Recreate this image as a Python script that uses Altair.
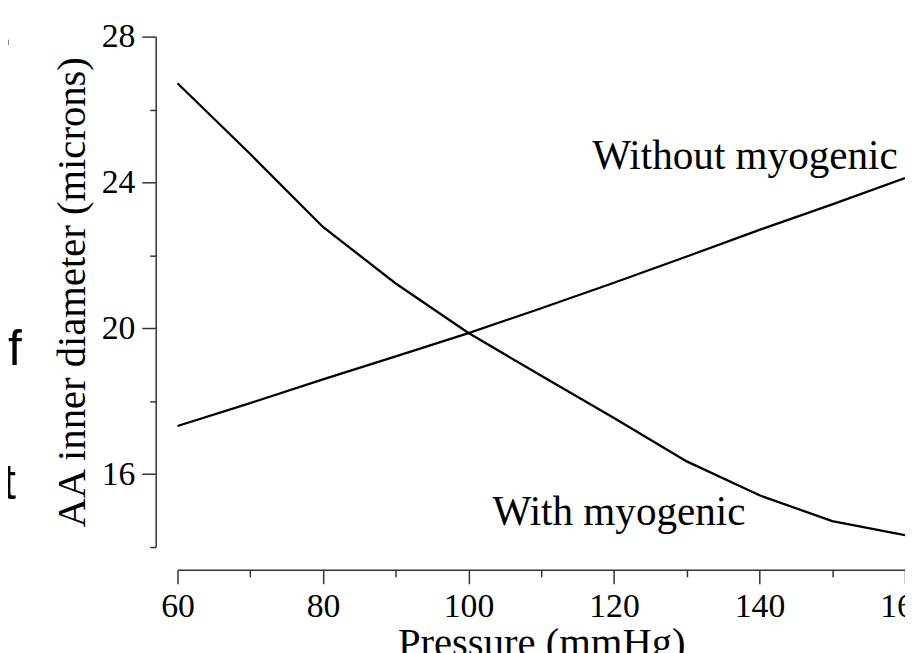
import altair as alt
import pandas as pd

# Data
pressure = [60, 70, 80, 90, 100, 110, 120, 130, 140, 150, 160]
with_myogenic = [26.72, 24.78, 22.78, 21.23, 19.87, 18.70, 17.54, 16.35, 15.42, 14.71, 14.33]
without_myogenic = [17.32, 17.95, 18.60, 19.23, 19.87, 20.55, 21.25, 21.97, 22.70, 23.40, 24.12]

label_text = ["Without myogenic", "With myogenic"]
label_x = [117.0, 103.3]
label_y = [24.36, 14.60]

# fragments of slide text cut off at the left edge
side_text = ["P.", "of", "t"]
side_x = [37.4, 38.6, 37.8]
side_y = [27.78, 19.0, 15.33]

x_ticks = list(range(60, 161, 10))
y_ticks = list(range(14, 29, 2))

rows = []
for p, w, wo in zip(pressure, with_myogenic, without_myogenic):
    rows.append({"pressure": p, "diameter": w, "series": "With myogenic"})
    rows.append({"pressure": p, "diameter": wo, "series": "Without myogenic"})
df = pd.DataFrame(rows)
ann = pd.DataFrame({"text": label_text, "pressure": label_x, "diameter": label_y})
side = pd.DataFrame({"text": side_text, "pressure": side_x, "diameter": side_y})

SERIF = "Liberation Serif"
AX = "#333333"

x_enc = alt.X(
    "pressure:Q",
    scale=alt.Scale(domain=[60, 160], nice=False, zero=False),
    axis=alt.Axis(
        values=x_ticks,
        labelExpr="datum.value % 20 == 0 ? datum.label : ''",
        tickSize={"condition": {"test": "datum.value % 20 == 0", "value": 14}, "value": 7},
        offset=23,
        grid=False,
        domainColor=AX,
        domainWidth=1.5,
        tickColor=AX,
        tickWidth=1.5,
        labelFont=SERIF,
        labelFontSize=34,
        labelColor="black",
        labelPadding=6,
        labelFlush=False,
        labelOverlap=False,
        title="Pressure (mmHg)",
        titleFont=SERIF,
        titleFontSize=41,
        titleFontWeight="normal",
        titleColor="black",
        titlePadding=0,
    ),
)
y_enc = alt.Y(
    "diameter:Q",
    scale=alt.Scale(domain=[14, 28], nice=False, zero=False),
    axis=alt.Axis(
        values=y_ticks,
        labelExpr="datum.value % 4 == 0 ? datum.label : ''",
        tickSize={"condition": {"test": "datum.value % 4 == 0", "value": 14}, "value": 6},
        offset=22,
        grid=False,
        domainColor=AX,
        domainWidth=1.5,
        tickColor=AX,
        tickWidth=1.5,
        labelFont=SERIF,
        labelFontSize=34,
        labelColor="black",
        labelPadding=7,
        labelFlush=False,
        labelOverlap=False,
        title="AA inner diameter (microns)",
        titleFont=SERIF,
        titleFontSize=41,
        titleFontWeight="normal",
        titleColor="black",
        titlePadding=8,
    ),
)

lines = alt.Chart(df).mark_line(color="black", strokeWidth=2.3).encode(
    x=x_enc, y=y_enc, detail="series:N"
)
labels = alt.Chart(ann).mark_text(
    align="left", baseline="alphabetic", font=SERIF, fontSize=41.5, color="black"
).encode(x="pressure:Q", y="diameter:Q", text="text:N")
side_labels = alt.Chart(side).mark_text(
    align="right", baseline="alphabetic", font="Liberation Sans", fontSize=50, color="black"
).encode(x="pressure:Q", y="diameter:Q", text="text:N")

chart = (
    alt.layer(lines, labels, side_labels)
    .properties(
        width=734,
        height=515,
        autosize=alt.AutoSizeParams(type="none"),
        padding={"left": 171, "top": 26, "right": 0, "bottom": 104},
        background="white",
    )
    .configure_view(stroke=None)
)

chart.save("out.html", embed_options={"renderer": "svg", "actions": False})
